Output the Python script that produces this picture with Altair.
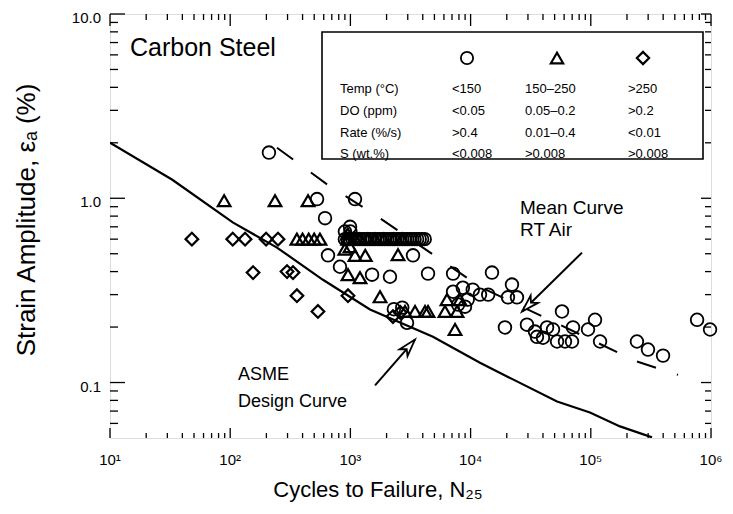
import math
import altair as alt
import pandas as pd

# ---------------- data ----------------
circle_cycles = [210, 528, 1092, 615, 651, 819, 1514, 993, 900, 1000,
                 900, 945, 990, 1040, 1090, 1145, 1200, 1260, 1320, 1385, 1450, 1525,
                 1600, 1680, 1760, 1845, 1930, 2030, 2130, 2235, 2340, 2455, 2570,
                 2700, 2830, 2970, 3110, 3265, 3420, 3590, 3770, 3950, 4150,
                 3318, 4424, 7147, 15060, 7147, 8620, 10420, 11970, 14010, 9460,
                 7870, 8980, 22090, 20450, 24300, 57600, 19310, 29440, 34330,
                 43230, 48500, 35650, 39990, 52400, 60980, 69780, 71100, 94800,
                 108400, 119400, 242000, 299000, 399000, 766000, 982000,
                 2958, 2134, 2300, 2700]
circle_strain = [1.77, 0.99, 0.99, 0.78, 0.49, 0.425, 0.385, 0.70, 0.66, 0.66,
                 0.60, 0.60, 0.60, 0.60, 0.60, 0.60, 0.60, 0.60, 0.60, 0.60, 0.60, 0.60,
                 0.60, 0.60, 0.60, 0.60, 0.60, 0.60, 0.60, 0.60, 0.60, 0.60, 0.60,
                 0.60, 0.60, 0.60, 0.60, 0.60, 0.60, 0.60, 0.60, 0.60, 0.60,
                 0.49, 0.39, 0.39, 0.395, 0.311, 0.327, 0.319, 0.300, 0.300, 0.282,
                 0.265, 0.258, 0.34, 0.29, 0.29, 0.243, 0.199, 0.206, 0.189,
                 0.199, 0.194, 0.177, 0.175, 0.167, 0.167, 0.167, 0.199, 0.194,
                 0.219, 0.167, 0.167, 0.151, 0.140, 0.219, 0.194,
                 0.211, 0.375, 0.25, 0.255]

triangle_cycles = [89, 236, 444, 359, 400, 450, 500, 558, 950, 1100, 1200, 1400, 1600,
                   1900, 2300, 2700, 950,
                   2489, 900, 1092, 1330, 993, 955, 1202, 1764, 2845, 3447, 4175,
                   4424, 6120, 7710, 6364, 8165, 7422]
triangle_strain = [0.97, 0.97, 0.97, 0.60, 0.60, 0.60, 0.60, 0.60, 0.60, 0.60, 0.60, 0.60, 0.60,
                   0.60, 0.60, 0.60, 0.64,
                   0.494, 0.53, 0.49, 0.49, 0.546, 0.385, 0.371, 0.292, 0.243, 0.243, 0.243,
                   0.243, 0.243, 0.243, 0.282, 0.282, 0.194]

diamond_cycles = [48, 105, 133, 199, 250, 155, 297, 333, 359, 955, 537, 2260, 2600]
diamond_strain = [0.60, 0.60, 0.60, 0.60, 0.60, 0.395, 0.40, 0.395, 0.296, 0.296,
                  0.243, 0.228, 0.24]

asme_cycles = [10, 33, 105, 245, 591, 1456, 4860, 11970, 22500, 52400, 98400,
               175000, 323000]
asme_strain = [2.0, 1.26, 0.74, 0.54, 0.361, 0.249, 0.177, 0.128, 0.104, 0.0788,
               0.0687, 0.0578, 0.0504]

mean_cycles = [245, 651, 1514, 6120, 11970, 242000, 531000]
mean_strain = [1.88, 1.18, 0.834, 0.447, 0.331, 0.130, 0.110]

# annotation arrows: tail -> tip
mean_arrow = {"cycles": [84500], "strain": [0.507], "cycles2": [26800], "strain2": [0.243]}
asme_arrow = {"cycles": [1603], "strain": [0.0964], "cycles2": [3444], "strain2": [0.171]}

legend_header = ["Temp (°C)", "DO (ppm)", "Rate (%/s)", "S (wt.%)"]
legend_col1 = ["<150", "<0.05", ">0.4", "<0.008"]
legend_col2 = ["150–250", "0.05–0.2", "0.01–0.4", ">0.008"]
legend_col3 = [">250", ">0.2", "<0.01", ">0.008"]

# axis tick values and their labels
x_major = [10, 100, 1000, 10000, 100000, 1000000]
x_labels = ["10¹", "10²", "10³", "10⁴", "10⁵", "10⁶"]
y_major = [0.1, 1, 10]
y_labels = ["0.1", "1.0", "10.0"]
x_title = "Cycles to Failure, N₂₅"
y_title = "Strain Amplitude, εₐ (%)"

# ---------------- styling ----------------
FONT = "Liberation Sans"
W, H = 601, 424
X_DOM = [10, 1e6]
Y_DOM = [0.05, 10]
xs = alt.Scale(type="log", domain=X_DOM, nice=False)
ys = alt.Scale(type="log", domain=Y_DOM, nice=False)

x_minor = [m * 10 ** k for k in range(1, 6) for m in range(2, 10)]
y_minor = [m / 100 for m in range(6, 10)] + [m / 10 for m in range(2, 10)] + list(range(2, 10))

XA = alt.X("cycles:Q", scale=xs, axis=None)
YA = alt.Y("strain:Q", scale=ys, axis=None)


def pts(cyc, strain):
    return pd.DataFrame({"cycles": cyc, "strain": strain})


circles = alt.Chart(pts(circle_cycles, circle_strain)).mark_point(
    shape="circle", filled=False, stroke="black", strokeWidth=1.8, size=160, opacity=1
).encode(x=XA, y=YA)

triangles = alt.Chart(pts(triangle_cycles, triangle_strain)).mark_point(
    shape="triangle-up", filled=False, stroke="black", strokeWidth=2.2, size=160, opacity=1
).encode(x=XA, y=YA)

diamonds = alt.Chart(pts(diamond_cycles, diamond_strain)).mark_point(
    shape="diamond", filled=False, stroke="black", strokeWidth=2.2, size=160, opacity=1
).encode(x=XA, y=YA)

asme = alt.Chart(pts(asme_cycles, asme_strain)).mark_line(
    color="black", strokeWidth=2.2, clip=True
).encode(x=XA, y=YA)

mean = alt.Chart(pts(mean_cycles, mean_strain)).mark_line(
    color="black", strokeWidth=2, strokeDash=[20, 22], clip=True
).encode(x=XA, y=YA)

# ---- axes: inward tick marks on all four sides (segments from the frame edge inward,
#      both ends placed through the scales), tick labels and titles ----
X_DEC_PER_PX = math.log10(X_DOM[1] / X_DOM[0]) / W
Y_DEC_PER_PX = math.log10(Y_DOM[1] / Y_DOM[0]) / H


def edge_ticks(values, length, side):
    n = len(values)
    if side in ("bottom", "top"):
        if side == "bottom":
            s0, s1 = Y_DOM[0], Y_DOM[0] * 10 ** (length * Y_DEC_PER_PX)
        else:
            s0, s1 = Y_DOM[1], Y_DOM[1] / 10 ** (length * Y_DEC_PER_PX)
        df = pd.DataFrame({"cycles": values, "strain": [s0] * n,
                           "cycles2": values, "strain2": [s1] * n})
    else:
        if side == "left":
            c0, c1 = X_DOM[0], X_DOM[0] * 10 ** (length * X_DEC_PER_PX)
        else:
            c0, c1 = X_DOM[1], X_DOM[1] / 10 ** (length * X_DEC_PER_PX)
        df = pd.DataFrame({"cycles": [c0] * n, "strain": values,
                           "cycles2": [c1] * n, "strain2": values})
    return alt.Chart(df).mark_rule(color="black", strokeWidth=1.3).encode(
        x=XA, y=YA, x2="cycles2:Q", y2="strain2:Q")


tick_layers = [
    edge_ticks(x_major, 10, "bottom"), edge_ticks(x_minor, 5, "bottom"),
    edge_ticks(x_major, 12, "top"), edge_ticks(x_minor, 6, "top"),
    edge_ticks(y_major, 15, "left"), edge_ticks(y_minor, 8, "left"),
    edge_ticks(y_major, 10, "right"), edge_ticks(y_minor, 6, "right"),
]

x_tick_labels = alt.Chart(pd.DataFrame({"cycles": x_major, "lab": x_labels})).mark_text(
    font=FONT, fontSize=15, color="black", align="center", baseline="middle"
).encode(x=XA, y=alt.value(H + 22), text="lab:N")

y_tick_labels = alt.Chart(pd.DataFrame({"strain": y_major, "lab": y_labels})).mark_text(
    font=FONT, fontSize=15, color="black", align="right", baseline="middle", dy=4
).encode(y=YA, x=alt.value(-9), text="lab:N")

one = pd.DataFrame({"k": [0]})


def label(text, x, y, size=17, align="left", angle=0):
    return alt.Chart(one).mark_text(font=FONT, fontSize=size, color="black", align=align,
                                    baseline="middle", angle=angle).encode(
        x=alt.value(x), y=alt.value(y), text=alt.value(text))


axis_titles = [
    label(x_title, 268, H + 52, 22, "center"),
    label(y_title, -83, 206, 26, "center", 270),
]

ARROW = "M0,0L0.6,2L0,1.45L-0.6,2Z"


def arrow(d, angle):
    df = pd.DataFrame(d)
    line = alt.Chart(df).mark_rule(color="black", strokeWidth=2).encode(
        x=XA, y=YA, x2="cycles2:Q", y2="strain2:Q")
    head = alt.Chart(df).mark_point(shape=ARROW, filled=True, fill="white", stroke="black",
                                    strokeWidth=1.8, size=300, opacity=1, angle=angle).encode(
        x=alt.X("cycles2:Q", scale=xs, axis=None), y=alt.Y("strain2:Q", scale=ys, axis=None))
    return [line, head]


# legend table
legend_layers = [
    alt.Chart(one).mark_rect(fill="white", stroke="black", strokeWidth=1.6).encode(
        x=alt.value(212), x2=alt.value(593), y=alt.value(18), y2=alt.value(145)),
    alt.Chart(one).mark_point(shape="circle", filled=False, stroke="black", strokeWidth=1.8,
                              size=150, opacity=1).encode(x=alt.value(357), y=alt.value(44)),
    alt.Chart(one).mark_point(shape="triangle-up", filled=False, stroke="black", strokeWidth=2.2,
                              size=150, opacity=1).encode(x=alt.value(447), y=alt.value(44)),
    alt.Chart(one).mark_point(shape="diamond", filled=False, stroke="black", strokeWidth=2.2,
                              size=150, opacity=1).encode(x=alt.value(533), y=alt.value(44)),
]
row_y = [75, 97, 119, 140]
for i in range(4):
    legend_layers.append(label(legend_header[i], 230, row_y[i], 13))
    legend_layers.append(label(legend_col1[i], 342, row_y[i], 13))
    legend_layers.append(label(legend_col2[i], 415, row_y[i], 13))
    legend_layers.append(label(legend_col3[i], 518, row_y[i], 13))

texts = [
    label("Carbon    Steel", 20, 34, 25),
    label("Mean Curve", 410, 194, 19),
    label("RT Air", 410, 216, 19),
    label("ASME", 128, 361, 18),
    label("Design Curve", 128, 388, 18),
]

chart = alt.layer(
    circles, triangles, diamonds, asme, mean, *tick_layers,
    x_tick_labels, y_tick_labels, *axis_titles,
    *arrow(mean_arrow, 225), *arrow(asme_arrow, 41),
    *legend_layers, *texts
).properties(
    width=W, height=H,
    padding={"left": 102, "top": 6, "right": 14, "bottom": 68},
    autosize=alt.AutoSizeParams(type="none"),
).configure_view(stroke="black", strokeWidth=1.8).configure(background="white")

chart.save("out.html", embed_options={"renderer": "svg", "actions": False})
